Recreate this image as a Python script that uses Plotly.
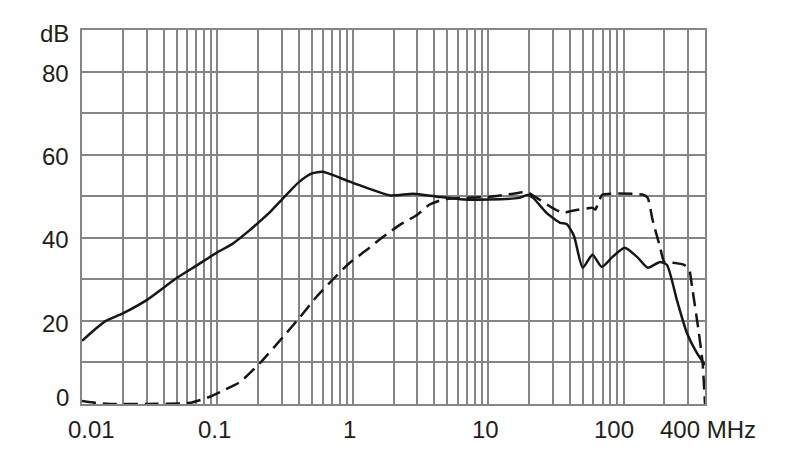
import math
import plotly.graph_objects as go

# ---- data ----
solid_f = [0.01, 0.0125, 0.015, 0.02, 0.03, 0.05, 0.07, 0.1, 0.13, 0.17, 0.2, 0.25, 0.3, 0.4,
           0.5, 0.6, 0.7, 0.95, 1.27, 1.9, 2.8, 4.2, 6.2, 10, 17, 19.5, 21.5, 27, 34, 38,
           43, 50, 59, 69, 83, 102, 126, 151, 186, 209, 248, 294, 348, 400]
solid_db = [15.2, 18.0, 20.0, 21.8, 25.0, 30.3, 33.3, 36.5, 38.6, 41.6, 43.6, 46.5, 49.2, 53.4,
            55.5, 55.9, 55.2, 53.5, 52.0, 50.2, 50.6, 49.9, 49.3, 49.2, 49.6, 50.3, 49.6, 46.0, 43.6, 43.3,
            40.5, 32.8, 35.9, 33.0, 35.4, 37.6, 35.4, 32.8, 34.2, 33.5, 25.0, 17.1, 12.3, 9.4]

dash_f = [0.01, 0.013, 0.016, 0.03, 0.063, 0.084, 0.105, 0.147, 0.207, 0.305, 0.41, 0.54,
          0.71, 0.95, 1.27, 1.67, 2.23, 2.98, 3.7, 4.64, 6.2, 9.8, 15.4, 19.4, 22.9,
          29.8, 35.5, 42, 59, 62, 66.5, 70, 138, 151, 164, 186, 200, 230, 280, 306,
          321, 358, 384, 400]
dash_db = [0.7, 0.2, 0.0, 0.0, 0.3, 1.5, 2.9, 5.3, 9.9, 16.1, 21.0, 25.8,
           29.9, 34.0, 37.1, 40.2, 43.1, 45.5, 48.0, 49.2, 49.6, 49.8, 50.6, 51.0, 49.6,
           47.2, 46.0, 46.5, 47.2, 46.8, 49.2, 50.4, 50.4, 49.6, 44.3, 37.8, 34.2, 34.0, 33.5, 32.3,
           28.2, 17.8, 9.9, 0.0]

x_tick_vals = [0.01, 0.1, 1, 10, 100, 400]
x_tick_text = ["0.01", "0.1", "1", "10", "100", "400 MHz"]
y_tick_vals = [0, 20, 40, 60, 80, 90]
y_tick_text = ["0", "20", "40", "60", "80", "dB"]

# grid positions of the log paper
decades = [0.01, 0.1, 1, 10]
x_grid = [d * k for d in decades for k in range(1, 10)] + [100, 200, 300, 400]
y_grid = list(range(0, 91, 10))

INK = "#161616"
GRID = "#858585"
FONT = dict(family="Liberation Sans, Arial, sans-serif", size=24, color="#1e1e1e")

fig = go.Figure()
fig.add_trace(go.Scatter(x=solid_f, y=solid_db, mode="lines",
                         line=dict(color=INK, width=2.5, shape="spline", smoothing=0.6),
                         showlegend=False, hoverinfo="skip"))
fig.add_trace(go.Scatter(x=dash_f, y=dash_db, mode="lines",
                         line=dict(color=INK, width=2.5, dash="14px,7px", shape="spline", smoothing=0.5),
                         showlegend=False, hoverinfo="skip"))

x_shifts = [9, -3, -3, -3, -10, 3]
annotations = []
for v, t, s in zip(x_tick_vals, x_tick_text, x_shifts):
    annotations.append(dict(x=math.log10(v), y=0, xref="x", yref="paper", text=t,
                            showarrow=False, xanchor="center", yanchor="middle",
                            xshift=s, yshift=-25, font=FONT))
y_shifts = [7, -3, -2, -2, -2, -3]
for v, t, s in zip(y_tick_vals, y_tick_text, y_shifts):
    annotations.append(dict(x=0, y=v, xref="paper", yref="y", text=t,
                            showarrow=False, xanchor="right", yanchor="middle",
                            xshift=-11, yshift=s, font=FONT))

fig.update_layout(
    width=790, height=454,
    margin=dict(l=74, r=93, t=22, b=58),
    paper_bgcolor="white", plot_bgcolor="white",
    annotations=annotations,
    xaxis=dict(type="log", range=[math.log10(0.01), math.log10(400)],
               tickmode="array", tickvals=x_grid, showticklabels=False,
               showgrid=True, gridcolor=GRID, gridwidth=1.7, zeroline=False,
               showline=True, linecolor=GRID, linewidth=1.7, mirror=True, ticks=""),
    yaxis=dict(range=[0, 90], tickmode="array", tickvals=y_grid, showticklabels=False,
               showgrid=True, gridcolor=GRID, gridwidth=1.7, zeroline=False,
               showline=True, linecolor=GRID, linewidth=1.7, mirror=True, ticks=""),
)

fig.write_html("out.html")
